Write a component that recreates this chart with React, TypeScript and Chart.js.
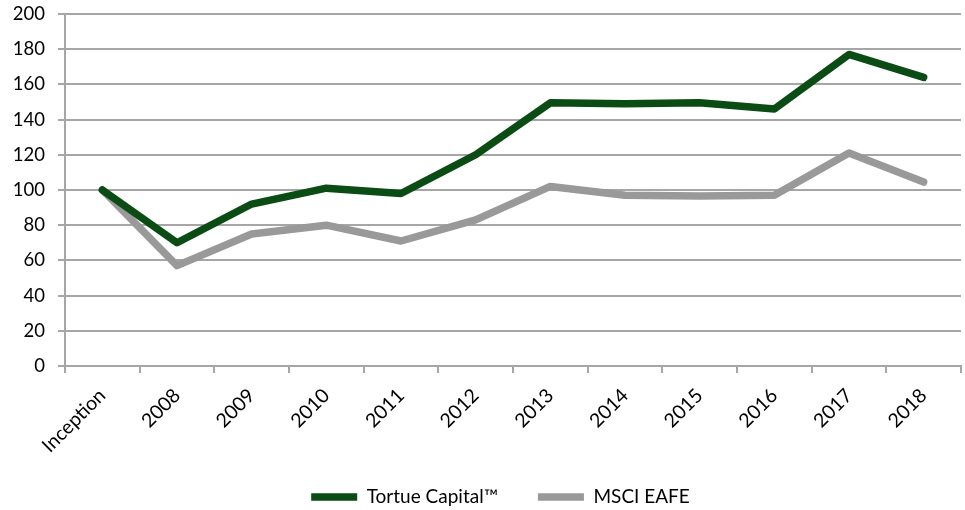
import React, { useEffect, useRef } from 'react';
import { Chart, registerables } from 'chart.js';

Chart.register(...registerables);

const categories = ['Inception', '2008', '2009', '2010', '2011', '2012', '2013', '2014', '2015', '2016', '2017', '2018'];
const tortueValues = [100, 70, 92, 101, 98, 120, 149.5, 149, 149.5, 146, 177, 164];
const msciValues = [100, 57, 75, 80, 71, 83, 102, 97, 96.5, 97, 121, 104.5];
const seriesNames = ['Tortue Capital™', 'MSCI EAFE'];
const seriesColors = ['#0a4c14', '#999999'];
const yMin = 0;
const yMax = 200;
const yStep = 20;

const layoutTweaks = {
  id: 'layoutTweaks',
  afterLayout(chart: any) {
    const l = chart.legend;
    if (l) {
      l.top += 6.5;
      l.bottom += 6.5;
      l.left += 20;
      l.right += 20;
    }
    const x = chart.scales.x;
    if (x) {
      x.bottom += 20;
    }
  },
};

export default function App() {
  const ref = useRef<HTMLCanvasElement | null>(null);
  useEffect(() => {
    document.body.style.margin = '0';
    const canvas = ref.current;
    if (!canvas) return;
    const gridColor = '#a6a6a6';
    const chart = new Chart(canvas, {
      type: 'line',
      data: {
        labels: categories,
        datasets: [
          {
            label: seriesNames[0],
            data: tortueValues,
            borderColor: seriesColors[0],
            backgroundColor: seriesColors[0],
            borderWidth: 7.5,
            pointRadius: 0,
            borderJoinStyle: 'round',
            borderCapStyle: 'round',
            tension: 0,
          },
          {
            label: seriesNames[1],
            data: msciValues,
            borderColor: seriesColors[1],
            backgroundColor: seriesColors[1],
            borderWidth: 7.5,
            pointRadius: 0,
            borderJoinStyle: 'round',
            borderCapStyle: 'round',
            tension: 0,
          },
        ],
      },
      options: {
        animation: false,
        responsive: false,
        maintainAspectRatio: false,
        layout: { padding: { top: 5, right: 4, left: 0, bottom: 0 } },
        plugins: {
          tooltip: { enabled: false },
          legend: {
            position: 'bottom',
            labels: {
              usePointStyle: true,
              pointStyle: 'line',
              pointStyleWidth: 46,
              padding: 40,
              color: '#000',
              font: { family: 'Lato', size: 19 },
            },
          },
        },
        scales: {
          x: {
            offset: true,
            grid: {
              offset: true,
              drawOnChartArea: false,
              tickLength: 7,
              color: gridColor,
              lineWidth: 2,
            },
            border: { display: true, color: gridColor, width: 2 },
            ticks: {
              autoSkip: false,
              minRotation: 45,
              maxRotation: 45,
              padding: 11,
              color: '#000',
              font: { family: 'Lato', size: 19.5 },
            },
            afterFit(scale: any) {
              scale.height = 75;
            },
          },
          y: {
            min: yMin,
            max: yMax,
            grid: { color: gridColor, lineWidth: 2, tickLength: 7 },
            border: { display: true, color: gridColor, width: 2 },
            ticks: {
              stepSize: yStep,
              padding: 13,
              color: '#000',
              font: { family: 'Lato', size: 18.5, lineHeight: 0.1 },
            },
            afterFit(scale: any) {
              scale.width = 65;
            },
          },
        },
      },
      plugins: [layoutTweaks],
    } as any);
    return () => chart.destroy();
  }, []);
  return (
    <div style={{ width: 965, height: 510 }}>
      <canvas ref={ref} width={965} height={510} style={{ display: 'block', width: 965, height: 510 }} />
    </div>
  );
}
